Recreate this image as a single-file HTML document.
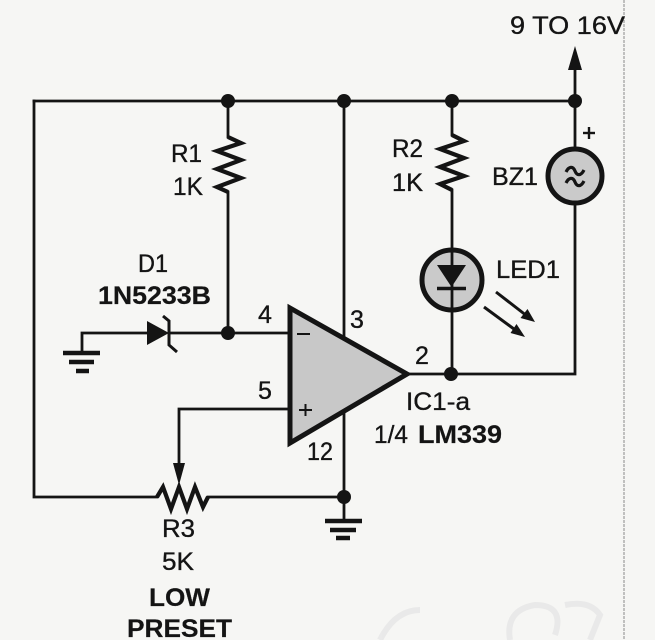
<!DOCTYPE html>
<html><head><meta charset="utf-8"><style>
html,body{margin:0;padding:0;background:#f6f6f4;}
svg{display:block;}
text{font-family:"Liberation Sans",Arial,sans-serif;font-size:25px;fill:#141414;stroke:#141414;stroke-width:0.35px;}
.b{font-weight:bold;stroke-width:0.2px;}
</style></head><body>
<svg width="655" height="640" viewBox="0 0 655 640" xmlns="http://www.w3.org/2000/svg">
<rect width="655" height="640" fill="#f6f6f4"/>
<!-- faint page edge -->
<line x1="624" y1="0" x2="624" y2="640" stroke="#8a8a8a" stroke-width="1" stroke-dasharray="3 1"/>
<!-- faint show-through blobs -->
<g fill="none" stroke="#e2e2e2" stroke-width="6" opacity="0.6">
<path d="M380,640 q15,-30 40,-30"/>
<path d="M510,640 q-5,-30 25,-35 q30,0 20,30"/>
<path d="M565,605 q25,-5 35,10 l-10,25"/>
</g>
<g stroke="#141414" stroke-width="2.8" fill="none" stroke-linecap="square">
<!-- top rail -->
<path d="M34,101 H575"/>
<!-- left rail & bottom -->
<path d="M34,101 V497 H157"/>
<path d="M208,497 H344"/>
<!-- R1 -->
<path d="M228,101 V137"/>
<path d="M228,192 V333"/>
<!-- pin4 line -->
<path d="M169,333 H290"/>
<path d="M82,353 V333 H147"/>
<!-- pin 3 -->
<path d="M344,101 V338"/>
<!-- pin 12 -->
<path d="M344,412 V521"/>
<!-- pin 5 wiper -->
<path d="M290,409 H179 V465"/>
<!-- R2 -->
<path d="M452,101 V135"/>
<path d="M452,190 V374"/>
<!-- output -->
<path d="M407,374 H575 V204"/>
<!-- BZ top -->
<path d="M575,101 V149"/>
<!-- supply arrow stem -->
<path d="M575,101 V66"/>
</g>
<polygon points="575,46 568,70 582,70" fill="#141414"/>
<!-- resistors -->
<g stroke="#141414" stroke-width="4.2" fill="none" stroke-linejoin="miter">
<polyline points="228,137 241,143 217,151 241,160 217,169 241,178 217,187 228,192"/>
<polyline points="452,135 464,141 440,149 464,158 440,167 464,176 440,184 452,190"/>
<polyline points="157,497 163,487 171,509 179,487 187,509 195,487 203,507 208,497"/>
</g>
<polygon points="173,463 185,463 179,485" fill="#141414"/>
<!-- zener diode -->
<polygon points="147,321 147,345 169,333" fill="#141414"/>
<polyline points="163,316 169,321 169,345 177,352" stroke="#141414" stroke-width="3" fill="none"/>
<!-- grounds -->
<g stroke="#141414" stroke-width="4.5">
<line x1="63" y1="353" x2="100" y2="353"/>
<line x1="69" y1="362" x2="94" y2="362"/>
<line x1="76" y1="371" x2="89" y2="371"/>
<line x1="325" y1="521" x2="362" y2="521"/>
<line x1="330" y1="530" x2="356" y2="530"/>
<line x1="336" y1="538" x2="350" y2="538"/>
</g>
<!-- op amp -->
<polygon points="290,308 407,374 290,443" fill="#c8c8c8" stroke="#141414" stroke-width="5" stroke-linejoin="miter"/>
<g stroke="#141414" stroke-width="2">
<line x1="297" y1="334" x2="310" y2="334"/>
<line x1="299" y1="410" x2="312" y2="410"/>
<line x1="305.5" y1="404" x2="305.5" y2="416"/>
</g>
<!-- LED -->
<circle cx="452" cy="280" r="30" fill="#cacaca" stroke="#141414" stroke-width="5"/>
<line x1="452" y1="250" x2="452" y2="310" stroke="#141414" stroke-width="2.8"/>
<polygon points="437,265 466,265 451.5,287" fill="#141414"/>
<line x1="437" y1="288.5" x2="466" y2="288.5" stroke="#141414" stroke-width="3.5"/>
<g stroke="#141414" stroke-width="3">
<line x1="496" y1="292" x2="527" y2="316"/>
<line x1="484" y1="307" x2="516" y2="330.5"/>
</g>
<polygon points="535,322 520.5,318 527.5,309" fill="#141414"/>
<polygon points="525,337 510.5,333 516.5,324" fill="#141414"/>
<!-- BZ1 -->
<circle cx="575" cy="176" r="27" fill="#cacaca" stroke="#141414" stroke-width="5"/>
<g stroke="#141414" stroke-width="3.2" fill="none">
<path d="M566,172 c3,-6 7,-6 9,-1 s6,5 9,-1"/>
<path d="M566,183 c3,-6 7,-6 9,-1 s6,5 9,-1"/>
<line x1="583" y1="133" x2="595" y2="133" stroke-width="2.4"/>
<line x1="589" y1="127" x2="589" y2="139" stroke-width="2.4"/>
</g>
<!-- junction dots -->
<g fill="#141414">
<circle cx="228" cy="101" r="7"/>
<circle cx="344" cy="101" r="7"/>
<circle cx="452" cy="101" r="7"/>
<circle cx="575" cy="101" r="7"/>
<circle cx="228" cy="333" r="7"/>
<circle cx="451" cy="374" r="7"/>
<circle cx="344" cy="497" r="7"/>
</g>
<!-- labels -->
<text x="510" y="34" textLength="115" lengthAdjust="spacingAndGlyphs">9 TO 16V</text>
<text x="171" y="162" textLength="31" lengthAdjust="spacingAndGlyphs">R1</text>
<text x="173" y="195" textLength="30" lengthAdjust="spacingAndGlyphs">1K</text>
<text x="138" y="272" textLength="30" lengthAdjust="spacingAndGlyphs">D1</text>
<text class="b" x="98" y="304" textLength="113" lengthAdjust="spacingAndGlyphs">1N5233B</text>
<text x="258" y="323">4</text>
<text x="258" y="399">5</text>
<text x="350" y="328">3</text>
<text x="415" y="364">2</text>
<text x="307" y="460" textLength="26" lengthAdjust="spacingAndGlyphs">12</text>
<text x="406" y="410" textLength="64" lengthAdjust="spacingAndGlyphs">IC1-a</text>
<text x="374" y="443" textLength="34" lengthAdjust="spacingAndGlyphs">1/4</text>
<text class="b" x="418" y="443" textLength="84" lengthAdjust="spacingAndGlyphs">LM339</text>
<text x="162" y="537" textLength="33" lengthAdjust="spacingAndGlyphs">R3</text>
<text x="162" y="570" textLength="32" lengthAdjust="spacingAndGlyphs">5K</text>
<text class="b" x="149" y="606" textLength="61" lengthAdjust="spacingAndGlyphs">LOW</text>
<text class="b" x="127" y="637" textLength="105" lengthAdjust="spacingAndGlyphs">PRESET</text>
<text x="392" y="157" textLength="31" lengthAdjust="spacingAndGlyphs">R2</text>
<text x="392" y="191" textLength="31" lengthAdjust="spacingAndGlyphs">1K</text>
<text x="492" y="185" textLength="46" lengthAdjust="spacingAndGlyphs">BZ1</text>
<text x="496" y="278" textLength="64" lengthAdjust="spacingAndGlyphs">LED1</text>
</svg>
</body></html>
